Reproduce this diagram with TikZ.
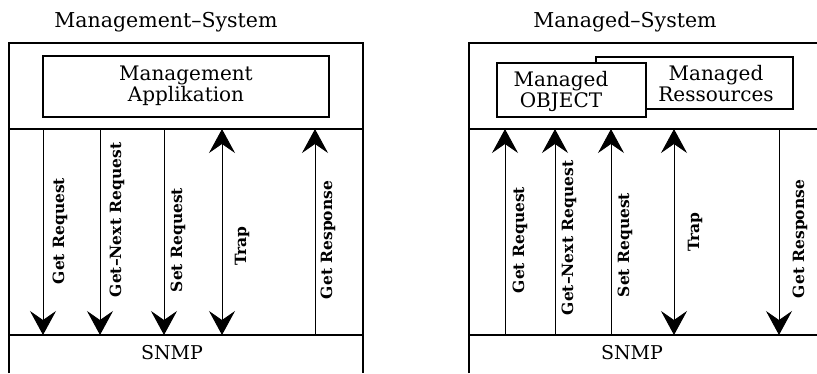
\documentclass[tikz,border=0pt]{standalone}
\usepackage{fontspec}
\setmainfont{DejaVu Serif}
\usetikzlibrary{arrows.meta}
\begin{document}
\begin{tikzpicture}[x=1pt,y=-1pt,
  frame/.style={line width=1.4pt},
  boxed/.style={draw,line width=1.2pt,fill=white},
  boxtext/.style={font=\fontsize{20}{21}\selectfont,align=center,inner sep=0pt},
  titletext/.style={font=\fontsize{20.5}{22}\selectfont,inner sep=0pt},
  snmptext/.style={font=\fontsize{19}{21}\selectfont,inner sep=0pt},
  msg/.style={line width=0.9pt},
  head/.tip={Stealth[length=24pt,width=26pt,inset=9pt]},
  label/.style={rotate=90,font=\fontsize{15.5}{17}\selectfont\bfseries,inner sep=0pt}]
\useasboundingbox (0,0) rectangle (817,373);

% ---------------- Management-System ----------------
\node[titletext] (t1) at (166,22) {Management--System};
\draw[frame] (9,373) -- (9,43) -- (363,43) -- (363,373);
\draw[frame] (9,129) -- (363,129);
\draw[frame] (9,335) -- (363,335);
\node[boxed,minimum width=286pt,minimum height=61pt] (app) at (186,86.5) {};
\node[boxtext] (apptext) at (186,86) {Management\\Applikation};
\node[snmptext] (snmp1) at (172,353) {SNMP};

\foreach \n/\x in {a/43,b/100,c/164,d/222,e/315}{
  \coordinate (L\n t) at (\x,129);
  \coordinate (L\n b) at (\x,335);
}
\draw[msg,-head] (Lat) -- (Lab);
\draw[msg,-head] (Lbt) -- (Lbb);
\draw[msg,-head] (Lct) -- (Lcb);
\draw[msg,head-head] (Ldt) -- (Ldb);
\draw[msg,-head] (Leb) -- (Let);

\node[label] (l1) at (60,231) {Get Request};
\node[label] (l2) at (117,220) {Get--Next Request};
\node[label] (l3) at (178,240) {Set Request};
\node[label] (l4) at (242,246) {Trap};
\node[label] (l5) at (328,240) {Get Response};

% ---------------- Managed-System ----------------
\node[titletext] (t2) at (625,22) {Managed--System};
\draw[frame] (469,373) -- (469,43) -- (820,43);
\draw[frame] (469,129) -- (820,129);
\draw[frame] (469,335) -- (820,335);
\node[boxed,minimum width=197pt,minimum height=52pt] (res) at (694.5,83) {};
\node[boxtext] (restext) at (716,84) {Managed\\Ressources};
\node[boxed,minimum width=149pt,minimum height=54pt] (obj) at (571.5,90) {};
\node[boxtext] (objtext) at (561,91) {Managed\\OBJECT};
\node[snmptext] (snmp2) at (632,353) {SNMP};

\foreach \n/\x in {a/505,b/555,c/611,d/674,e/779}{
  \coordinate (R\n t) at (\x,129);
  \coordinate (R\n b) at (\x,335);
}
\draw[msg,-head] (Rab) -- (Rat);
\draw[msg,-head] (Rbb) -- (Rbt);
\draw[msg,-head] (Rcb) -- (Rct);
\draw[msg,head-head] (Rdt) -- (Rdb);
\draw[msg,-head] (Ret) -- (Reb);

\node[label] (r1) at (520,240) {Get Request};
\node[label] (r2) at (569,238) {Get--Next Request};
\node[label] (r3) at (625,245) {Set Request};
\node[label] (r4) at (695,232) {Trap};
\node[label] (r5) at (800,239) {Get Response};
\end{tikzpicture}
\end{document}
